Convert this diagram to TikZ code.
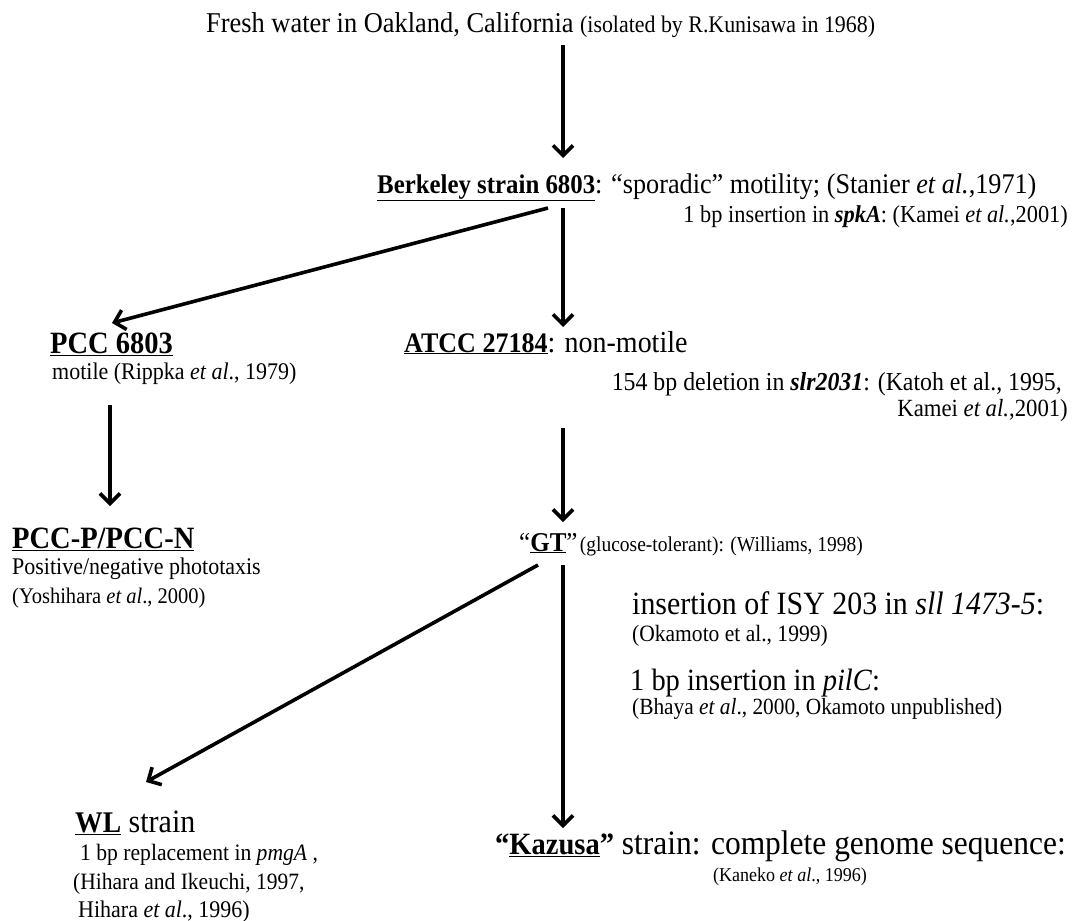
\documentclass[tikz,border=0pt]{standalone}
\usepackage{fontspec}
\setmainfont[FakeStretch=0.92]{Liberation Serif}
\usetikzlibrary{arrows.meta}
\newcommand\fs[1]{\fontsize{#1}{#1}\selectfont}
\newcommand\ul[1]{\underline{#1}}
\begin{document}
\begin{tikzpicture}[x=1pt,y=-1pt,
  arr/.style={line width=3.6pt,-{Straight Barb[length=10pt,width=20pt,line width=3.6pt]}},
  txt/.style={inner sep=0pt,anchor=base west},
  txr/.style={inner sep=0pt,anchor=base east}]
\useasboundingbox[fill=white] (0,0) rectangle (1074,921);
% texts
\node[txt] (src) at (206,32) {\fs{28.7}Fresh water in Oakland, California {\fs{23.8}(isolated by R.Kunisawa in 1968)}};
\node[txt] (berk) at (377,193) {{\fs{27}\bfseries\ul{Berkeley strain 6803}}{\fs{28.5}: “sporadic” motility; (Stanier \textit{et al.},1971)}};
\node[txr] (spka) at (1068,222) {\fs{24.3}1 bp insertion in \textbf{\textit{spkA}}: (Kamei \textit{et al.},2001)};
\node[txt] (pcc) at (50,353) {\fs{31}\bfseries\ul{PCC 6803}};
\node[txt] (pccm) at (52,379) {\fs{23.9}motile (Rippka \textit{et al}., 1979)};
\node[txt] (atcc) at (404,352) {{\fs{28.3}\bfseries\ul{ATCC 27184}}{\fs{30.4}: non-motile}};
\node[txr] (slr) at (1062,390) {\fs{25.9}154 bp deletion in \textbf{\textit{slr2031}}: (Katoh et al., 1995,};
\node[txr] (slrb) at (1068,416) {\fs{24.7}Kamei \textit{et al.},2001)};
\node[txt] (pccpn) at (12,548) {\fs{31}\bfseries\ul{PCC-P/PCC-N}};
\node[txt] (pccpn2) at (12,574) {\fs{23.9}Positive/negative phototaxis};
\node[txt] (pccpn3) at (12,603) {\fs{22.3}(Yoshihara \textit{et al}., 2000)};
\node[txt] (gt) at (519,551) {{\fs{27.2}“\textbf{\ul{GT}}”} {\fs{21.2}(glucose-tolerant): (Williams, 1998)}};
\node[txt] (isy) at (632,614) {\fs{32.5}insertion of ISY 203 in \textit{sll 1473-5}:};
\node[txt] (isyb) at (632,641) {\fs{23.4}(Okamoto et al., 1999)};
\node[txt] (pil) at (630,690) {\fs{30.9}1 bp insertion in \textit{pilC}:};
\node[txt] (pilb) at (632,714) {\fs{23.2}(Bhaya \textit{et al}., 2000, Okamoto unpublished)};
\node[txt] (wl) at (75,832) {{\fs{30}\bfseries\ul{WL}}{\fs{32.6}{} strain}};
\node[txt] (wl2) at (80,860) {\fs{23.5}1 bp replacement in \textit{pmgA} ,};
\node[txt] (wl3) at (73,889) {\fs{23.4}(Hihara and Ikeuchi, 1997,};
\node[txt] (wl4) at (78,917) {\fs{23.9}Hihara \textit{et al}., 1996)};
\node[txt] (kaz) at (495,854) {{\fs{31}\bfseries“\ul{Kazusa}”}{\fs{34.2}{} strain: complete genome sequence:}};
\node[inner sep=0pt,anchor=base] (kaz2) at (790,881) {\fs{19.6}(Kaneko \textit{et al}., 1996)};
% connector end points
\coordinate (a1s) at (563,45);  \coordinate (a1e) at (563,158);
\coordinate (a2s) at (548,208); \coordinate (a2e) at (112,323);
\coordinate (a3s) at (563,208); \coordinate (a3e) at (563,327);
\coordinate (a4s) at (110,405); \coordinate (a4e) at (110,506);
\coordinate (a5s) at (563,428); \coordinate (a5e) at (563,522);
\coordinate (a6s) at (538,565); \coordinate (a6e) at (146,782);
\coordinate (a7s) at (563,565); \coordinate (a7e) at (563,828);
\draw[arr] (a1s) -- (a1e);
\draw[arr] (a2s) -- (a2e);
\draw[arr] (a3s) -- (a3e);
\draw[arr] (a4s) -- (a4e);
\draw[arr] (a5s) -- (a5e);
\draw[arr] (a6s) -- (a6e);
\draw[arr] (a7s) -- (a7e);
\end{tikzpicture}
\end{document}
